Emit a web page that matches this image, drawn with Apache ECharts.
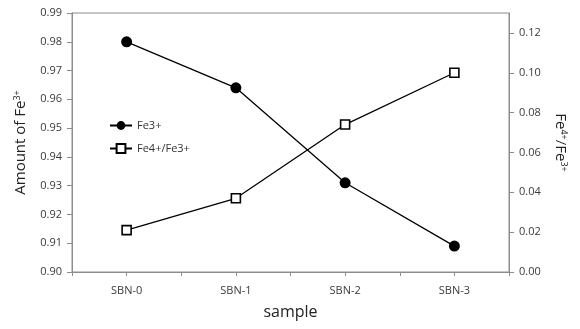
<!DOCTYPE html>
<html>
<head>
<meta charset="utf-8">
<script src="https://cdn.jsdelivr.net/npm/echarts@6/dist/echarts.min.js"></script>
<style>
  html, body { margin: 0; padding: 0; background: #fff; }
  #main { width: 580px; height: 329px; }
</style>
</head>
<body>
<div id="main"></div>
<script>
const samples = ['SBN-0', 'SBN-1', 'SBN-2', 'SBN-3']
const fe3 = [0.980, 0.964, 0.931, 0.909]
const ratio = [0.021, 0.037, 0.074, 0.100]
const leftTicks = [0.90, 0.91, 0.92, 0.93, 0.94, 0.95, 0.96, 0.97, 0.98, 0.99]
const rightTicks = [0, 0.02, 0.04, 0.06, 0.08, 0.10, 0.12]

const font = 'Open Sans'
const grey = '#8c8c8c'

let myChart = echarts.init(document.getElementById('main'))
let supRich = {
  a: { fontSize: 15, color: '#222', fontFamily: font },
  s: { fontSize: 9, color: '#222', fontFamily: font, verticalAlign: 'top', padding: [0, 0, 3, 0] }
}
let options = {
  backgroundColor: '#fff',
  textStyle: { fontFamily: font },
  grid: {
    left: 72, right: 71, top: 13, bottom: 57,
    show: true, borderColor: grey, borderWidth: 1
  },
  legend: {
    orient: 'vertical',
    left: 104, top: 115,
    itemGap: 12,
    itemWidth: 22, itemHeight: 11,
    textStyle: { fontSize: 11, color: '#333', fontFamily: font },
    data: ['Fe3+', 'Fe4+/Fe3+']
  },
  xAxis: [{
    type: 'category',
    data: samples,
    boundaryGap: true,
    name: 'sample',
    nameLocation: 'middle',
    nameGap: 32,
    nameTextStyle: { fontSize: 16, color: '#222' },
    axisLine: { lineStyle: { color: grey } },
    axisTick: { show: false },
    axisLabel: { fontSize: 11, color: '#3a3a3a', margin: 13 }
  }, {
    type: 'value',
    min: 0, max: 8, interval: 1,
    position: 'bottom',
    axisLine: { show: false },
    axisLabel: { show: false },
    splitLine: { show: false },
    axisTick: { show: true, length: 4, inside: false, lineStyle: { color: grey } }
  }],
  yAxis: [{
    type: 'value',
    min: 0.90, max: 0.99, interval: 0.01,
    name: '{a|Amount of Fe}{s|3+}',
    nameLocation: 'middle',
    nameRotate: 90,
    nameGap: 44,
    nameTextStyle: { rich: supRich },
    axisLine: { show: true, lineStyle: { color: grey } },
    axisTick: { show: true, length: 5, lineStyle: { color: grey } },
    splitLine: { show: false },
    axisLabel: {
      fontSize: 11, color: '#3a3a3a', margin: 10,
      customValues: leftTicks,
      formatter: v => v.toFixed(2)
    }
  }, {
    type: 'value',
    min: 0, max: 0.13, interval: 0.02,
    position: 'right',
    name: '{a|Fe}{s|4+}{a|/Fe}{s|3+}',
    nameLocation: 'middle',
    nameRotate: -90,
    nameGap: 44,
    nameTextStyle: { rich: supRich },
    axisLine: { show: true, lineStyle: { color: grey } },
    axisTick: { show: true, length: 5, customValues: rightTicks, lineStyle: { color: grey } },
    splitLine: { show: false },
    axisLabel: {
      fontSize: 11, color: '#3a3a3a', margin: 10,
      customValues: rightTicks,
      formatter: v => v.toFixed(2)
    }
  }],
  series: [{
    name: 'Fe3+',
    type: 'line',
    xAxisIndex: 0,
    yAxisIndex: 0,
    data: fe3,
    symbol: 'circle',
    symbolSize: 11,
    itemStyle: { color: '#000' },
    lineStyle: { color: '#000', width: 1.3 }
  }, {
    name: 'Fe4+/Fe3+',
    type: 'line',
    xAxisIndex: 0,
    yAxisIndex: 1,
    data: ratio,
    symbol: 'rect',
    symbolSize: 9,
    itemStyle: { color: '#fff', borderColor: '#000', borderWidth: 1.6 },
    lineStyle: { color: '#000', width: 1.3 }
  }]
}
myChart.setOption(options)
</script>
</body>
</html>
